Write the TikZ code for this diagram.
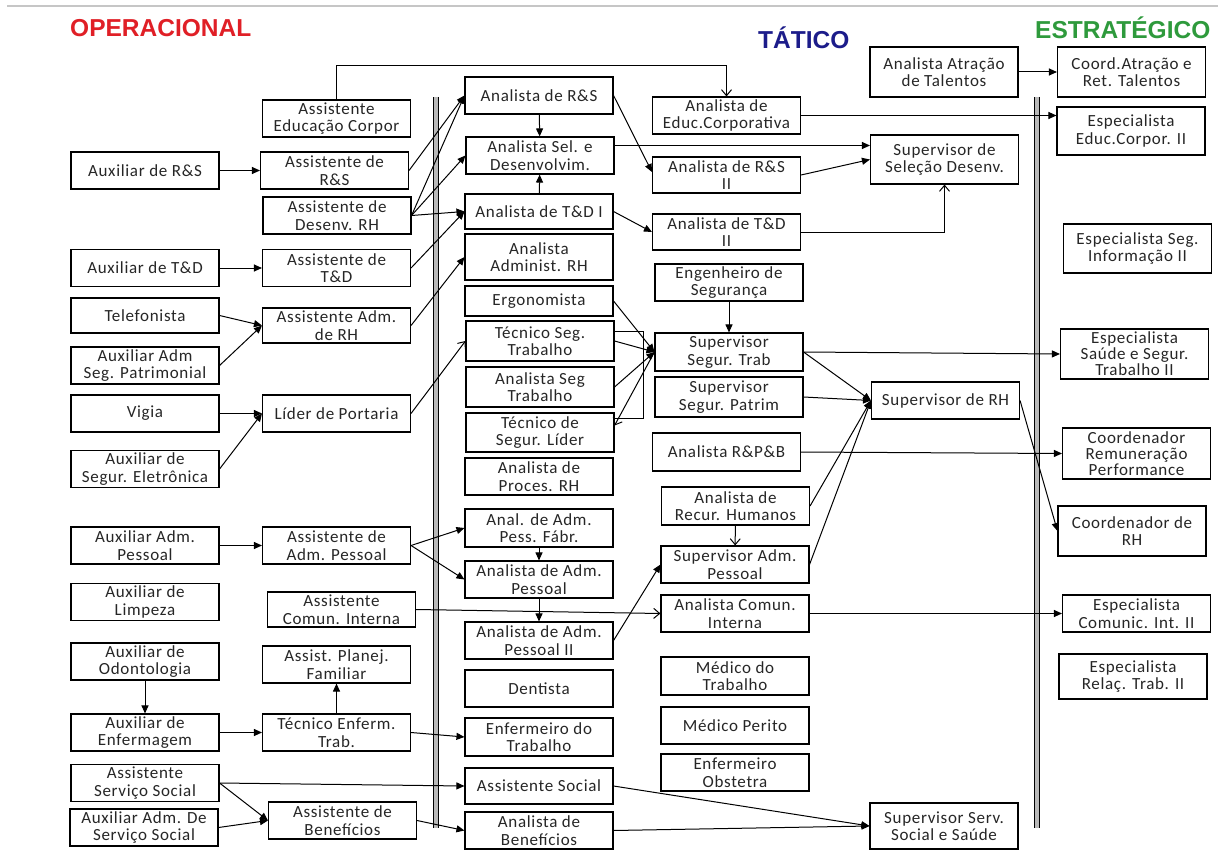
\documentclass[tikz,border=0pt]{standalone}
\usepackage{fontspec}
\setmainfont{Carlito}
\newfontfamily\boxfont[LetterSpace=4]{Carlito}
\newfontfamily\titlefont{Liberation Sans}
\usetikzlibrary{arrows.meta}
\definecolor{OpRed}{HTML}{E01F26}
\definecolor{TatBlue}{HTML}{1C1C8A}
\definecolor{EstGreen}{HTML}{2E9A3C}

\begin{document}
\begin{tikzpicture}[
    x=1pt, y=-1pt,
    cargo/.style={draw, line width=1.1pt, minimum width=148pt, minimum height=37pt,
      inner sep=0.5pt, align=center, text=black!85, font=\boxfont\fontsize{17}{17.5}\selectfont},
    seta/.style={line width=1pt, -{Triangle[length=8pt,width=7pt]}},
    setaab/.style={line width=1pt, -{Straight Barb[length=6pt,width=10pt]}},
    linha/.style={line width=1pt},
    titulo/.style={font=\titlefont\bfseries\fontsize{24.5}{26}\selectfont, inner sep=0pt, anchor=west},
    divisa/.style={line width=1pt, double=gray!55, double distance=4pt}
  ]
  \useasboundingbox (0,0) rectangle (1218,856);
  \fill[white] (0,0) rectangle (1218,856);
  \draw[gray!45, line width=1.5pt] (7,6) -- (1218,6);

  % titles
  \node[titulo, text=OpRed] (op) at (70,28) {OPERACIONAL};
  \node[titulo, text=TatBlue] (tat) at (758,38) {TÁTICO};
  \node[titulo, text=EstGreen] (est) at (1035,28) {ESTRATÉGICO};

  % dividers
  \coordinate (d1a) at (435.5,97);
  \coordinate (d1b) at (435.5,828);
  \coordinate (d2a) at (1036.5,97);
  \coordinate (d2b) at (1036.5,828);
  \draw[divisa] (d1a) -- (d1b);
  \draw[divisa] (d2a) -- (d2b);

  % Operacional, first column
  \node[cargo] (auxrs) at (145,170.5) {Auxiliar de R\&S};
  \node[cargo] (auxtd) at (145,268) {Auxiliar de T\&D};
  \node[cargo, minimum height=35pt] (telef) at (145,315.5) {Telefonista};
  \node[cargo] (auxseg) at (145,365.5) {Auxiliar Adm\\Seg. Patrimonial};
  \node[cargo] (vigia) at (145,413.5) {Vigia};
  \node[cargo] (auxele) at (145,469) {Auxiliar de\\Segur. Eletrônica};
  \node[cargo] (auxadmp) at (145,545.5) {Auxiliar Adm.\\Pessoal};
  \node[cargo] (auxlimp) at (145,602) {Auxiliar de\\Limpeza};
  \node[cargo] (auxodon) at (145,661.5) {Auxiliar de\\Odontologia};
  \node[cargo] (auxenf) at (145,732.5) {Auxiliar de\\Enfermagem};
  \node[cargo] (asssoc) at (145,783) {Assistente\\Serviço Social};
  \node[cargo] (auxadmss) at (144,827.5) {Auxiliar Adm. De\\Serviço Social};

  % Operacional, second column
  \node[cargo] (assedu) at (336.5,118.5) {Assistente\\Educação Corpor};
  \node[cargo] (assrs) at (334.5,170.5) {Assistente de\\R\&S};
  \node[cargo] (assdes) at (337,215.5) {Assistente de\\Desenv. RH};
  \node[cargo] (asstd) at (336.5,268) {Assistente de\\T\&D};
  \node[cargo, minimum height=35pt] (assadm) at (336.5,325.5) {Assistente Adm.\\de RH};
  \node[cargo] (lider) at (336.5,413.5) {Líder de Portaria};
  \node[cargo] (assadmp) at (336.5,545.5) {Assistente de\\Adm. Pessoal};
  \node[cargo, minimum height=35pt] (asscom) at (341.5,609.5) {Assistente\\Comun. Interna};
  \node[cargo] (assplan) at (336.5,664.5) {Assist. Planej.\\Familiar};
  \node[cargo] (tecenf) at (336.5,732.5) {Técnico Enferm.\\Trab.};
  \node[cargo] (assben) at (342.5,820.5) {Assistente de\\Benefícios};

  % Tatico, third column
  \node[cargo] (anrs) at (539,95.5) {Analista de R\&S};
  \node[cargo] (ansel) at (540,155.5) {Analista Sel. e\\Desenvolvim.};
  \node[cargo, minimum height=35pt] (antd) at (539,211.5) {Analista de T\&D I};
  \node[cargo, minimum height=46pt] (anadm) at (539,257) {Analista\\Administ. RH};
  \node[cargo, minimum height=30pt] (ergo) at (539,301) {Ergonomista};
  \node[cargo, minimum height=40pt] (tecseg) at (540,341) {Técnico Seg.\\Trabalho};
  \node[cargo, minimum height=40pt] (anseg) at (540,387) {Analista Seg\\Trabalho};
  \node[cargo, minimum height=39pt] (teclid) at (540,432.5) {Técnico de\\Segur. Líder};
  \node[cargo] (anproc) at (539,476.5) {Analista de\\Proces. RH};
  \node[cargo, minimum height=38pt] (anfabr) at (539,528) {Anal. de Adm.\\Pess. Fábr.};
  \node[cargo] (anadmp) at (539,579.5) {Analista de Adm.\\Pessoal};
  \node[cargo] (anadmp2) at (539,640.5) {Analista de Adm.\\Pessoal II};
  \node[cargo] (dent) at (539,688.5) {Dentista};
  \node[cargo, minimum height=38pt] (enftrab) at (539,737) {Enfermeiro do\\Trabalho};
  \node[cargo, minimum height=36pt] (asssocial) at (539,786) {Assistente Social};
  \node[cargo] (anben) at (539,830.5) {Analista de\\Benefícios};

  % Tatico, fourth column
  \node[cargo] (anedu) at (726.5,115.5) {Analista de\\Educ.Corporativa};
  \node[cargo, minimum height=36pt] (anrs2) at (726.5,175) {Analista de R\&S\\II};
  \node[cargo, minimum height=36pt] (antd2) at (726.5,232) {Analista de T\&D\\II};
  \node[cargo] (engseg) at (729,282.5) {Engenheiro de\\Segurança};
  \node[cargo, minimum height=38pt] (supseg) at (729,352) {Supervisor\\Segur. Trab};
  \node[cargo, minimum height=40pt] (suppat) at (729,397) {Supervisor\\Segur. Patrim};
  \node[cargo, minimum height=38pt] (anrpb) at (726.5,452) {Analista R\&P\&B};
  \node[cargo, minimum height=38pt] (anrh) at (735.5,506) {Analista de\\Recur. Humanos};
  \node[cargo] (supadm) at (735,564.5) {Supervisor Adm.\\Pessoal};
  \node[cargo] (ancom) at (735,613.5) {Analista Comun.\\Interna};
  \node[cargo, minimum height=38pt] (medtrab) at (735,676) {Médico do\\Trabalho};
  \node[cargo] (medper) at (735,725.5) {Médico Perito};
  \node[cargo] (enfobs) at (735,772.5) {Enfermeiro\\Obstetra};

  % Tatico, fifth column
  \node[cargo, minimum height=50pt] (anatr) at (944,72) {Analista Atração\\de Talentos};
  \node[cargo, minimum height=49pt] (supsel) at (944.5,159.5) {Supervisor de\\Seleção Desenv.};
  \node[cargo] (suprh) at (945.5,400.5) {Supervisor de RH};
  \node[cargo, minimum height=46pt] (supss) at (944,826) {Supervisor Serv.\\Social e Saúde};

  % Estrategico
  \node[cargo, minimum height=50pt] (coordatr) at (1131.5,72) {Coord.Atração e\\Ret. Talentos};
  \node[cargo, minimum height=48pt] (espedu) at (1131,131) {Especialista\\Educ.Corpor. II};
  \node[cargo, minimum height=49pt] (espinf) at (1137.5,248.5) {Especialista Seg.\\Informação II};
  \node[cargo, minimum height=50pt, font=\boxfont\fontsize{17}{16}\selectfont] (espsau) at (1134.5,354) {Especialista\\Saúde e Segur.\\Trabalho II};
  \node[cargo, minimum height=51pt, font=\boxfont\fontsize{17}{16}\selectfont] (coordrem) at (1136.5,453.5) {Coordenador\\Remuneração\\Performance};
  \node[cargo, minimum height=50pt] (coordrh) at (1132,531) {Coordenador de\\RH};
  \node[cargo] (espcom) at (1136.5,613.5) {Especialista\\Comunic. Int. II};
  \node[cargo, minimum height=45pt] (esprel) at (1133,676.5) {Especialista\\Relaç. Trab. II};

  % operacional links
  \draw[setaab] (assedu.north) -- ++(0,-34) -| (anedu.north);
  \draw[seta] (auxrs) -- (assrs);
  \draw[seta] (auxtd) -- (asstd);
  \draw[seta] (telef.east) -- (assadm.west);
  \draw[seta] (auxseg.east) -- (assadm.west);
  \draw[seta] (vigia) -- (lider);
  \draw[seta] (auxele.east) -- (lider.west);
  \draw[seta] (auxadmp) -- (assadmp);
  \draw[seta] (auxodon) -- (auxenf);
  \draw[seta] (auxenf) -- (tecenf);
  \draw[seta] (tecenf) -- (assplan);
  \draw[seta] (asssoc.east) -- (asssocial.west);
  \draw[seta] (asssoc.east) -- (assben.west);
  \draw[seta] (auxadmss.east) -- (assben.west);

  % across the first divider
  \draw[seta] (assrs.east) -- (anrs.west);
  \draw[seta] (assdes.east) -- (anrs.west);
  \draw[seta] (assdes.east) -- (ansel.west);
  \draw[seta] (assdes.east) -- (antd.west);
  \draw[seta] (asstd.east) -- (antd.west);
  \draw[seta] (assadm.east) -- (anadm.west);
  \draw[setaab] (lider.east) -- (tecseg.west);
  \draw[seta] (assadmp.east) -- (anfabr.west);
  \draw[seta] (assadmp.east) -- (anadmp.west);
  \draw[setaab] (asscom.east) -- (ancom.west);
  \draw[seta] (tecenf.east) -- (enftrab.west);
  \draw[seta] (assben.east) -- (anben.west);

  % tatico links
  \draw[seta] (anrs) -- (ansel);
  \draw[seta] (antd) -- (ansel);
  \draw[seta] (anrs.east) -- ([yshift=3pt]anrs2.west);
  \draw[seta] (antd.east) -- (antd2.west);
  \draw[seta] ([yshift=10pt]ansel.east) -- ([yshift=14pt]supsel.west);
  \draw[seta] (anrs2.east) -- (supsel.west);
  \draw[setaab] (antd2.east) -| (supsel.south);
  \draw[seta] (anatr) -- (coordatr);
  \draw[seta] (anedu.east) -- (anedu.east -| espedu.west);
  \draw[seta] (engseg) -- (supseg);
  \draw[seta] (ergo.east) -- (supseg.west);
  \draw[seta] (tecseg.east) -- (supseg.west);
  \draw[seta] (anseg.east) -- (supseg.west);
  \draw[setaab] (supseg.west) -- ([yshift=7pt]teclid.east);
  \draw[linha] ([yshift=10pt]tecseg.east) -- ++(29,0) |- ([yshift=14pt]teclid.east);
  \draw[seta] (anfabr) -- (anadmp);
  \draw[seta] (anadmp) -- (anadmp2);
  \draw[seta] (anadmp2.east) -- (supadm.west);
  \draw[setaab] (anrh) -- (supadm);
  \draw[seta] (supseg.east) -- (suprh.west);
  \draw[seta] (suppat.east) -- (suprh.west);
  \draw[seta] (anrh.east) -- (suprh.west);
  \draw[seta] (supadm.east) -- (suprh.west);
  \draw[seta] (asssocial.east) -- (supss.west);
  \draw[seta] (anben.east) -- (supss.west);

  % to estrategico
  \draw[seta] (supseg.east) -- (espsau.west);
  \draw[seta] (anrpb.east) -- (coordrem.west);
  \draw[seta] (suprh.east) -- (coordrh.west);
  \draw[seta] (ancom.east) -- (espcom.west);
\end{tikzpicture}
\end{document}
